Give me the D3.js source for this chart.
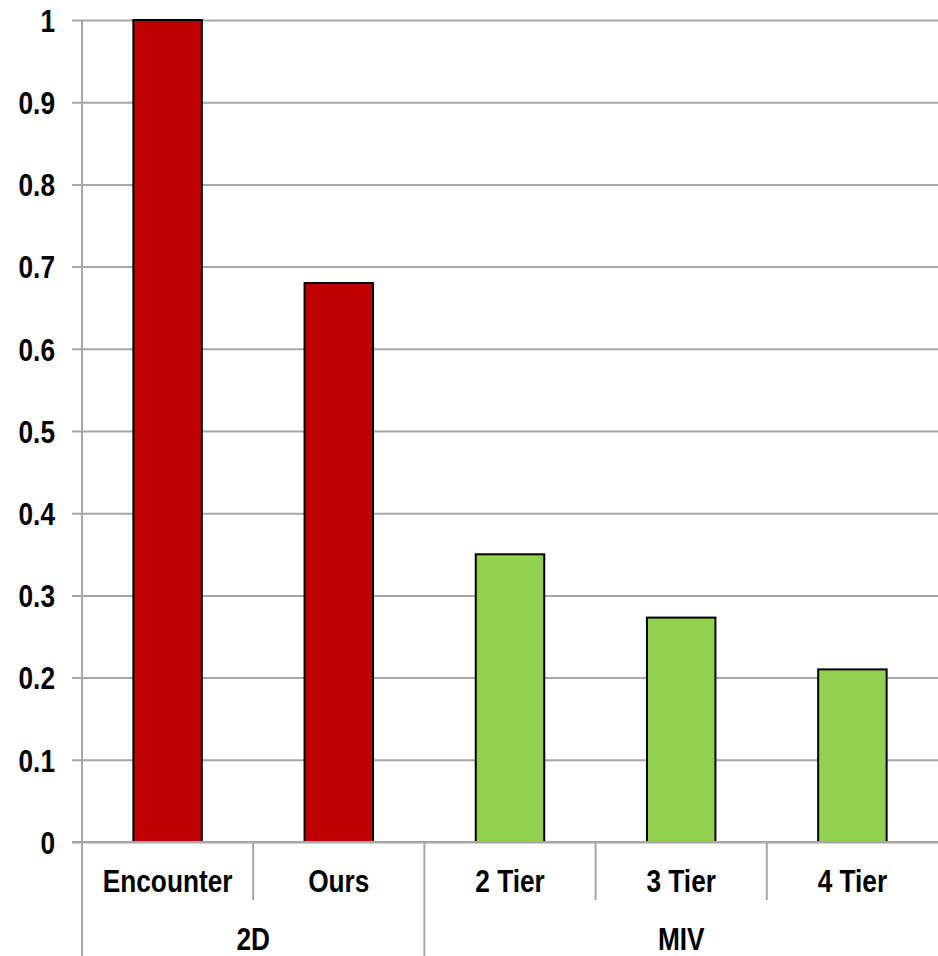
<!DOCTYPE html>
<html>
<head>
<meta charset="utf-8">
<script src="https://cdn.jsdelivr.net/npm/d3@7"></script>
<style>
  body { margin: 0; background: #fff; }
  svg text { font-family: "Liberation Sans Narrow", "Arial Narrow", "Liberation Sans", Arial, sans-serif; font-weight: bold; fill: #000; font-size: 32px; }
</style>
</head>
<body>
<svg id="chart" width="938" height="956"></svg>
<script>
// chart data
const categories = ['Encounter', 'Ours', '2 Tier', '3 Tier', '4 Tier'];
const groups = ['2D', '2D', 'MIV', 'MIV', 'MIV'];
const values = [1, 0.68, 0.35, 0.273, 0.21];
const groupNames = ['2D', 'MIV'];
const yTicks = [0, 0.1, 0.2, 0.3, 0.4, 0.5, 0.6, 0.7, 0.8, 0.9, 1];

const width = 938, height = 956;
const margin = { left: 82, right: 0, top: 20, bottom: 114 };
const drawWidth = width - margin.left - margin.right;
const drawHeight = height - margin.top - margin.bottom;
const colors = { '2D': '#c00000', 'MIV': '#92d050' };
const squeeze = 0.82; // narrow font look

const svg = d3.select('#chart');

const xScale = d3.scaleBand().domain(categories).range([0, drawWidth]);
const yScale = d3.scaleLinear().domain([0, 1]).range([drawHeight, 0]);

const g = svg.append('g').attr('transform', `translate(${margin.left},${margin.top})`);

// gridlines + y axis
const yAxis = d3.axisLeft(yScale).tickValues(yTicks).tickFormat(d => d3.format('')(d))
  .tickSize(-drawWidth - 10).tickPadding(0);
const yAxisG = g.append('g').attr('transform', 'translate(-10,0)').call(yAxis);
yAxisG.select('.domain').remove();
yAxisG.selectAll('.tick line').attr('stroke', '#a6a6a6').attr('stroke-width', 2)
  .attr('x1', 0).attr('x2', drawWidth + 10);
yAxisG.selectAll('.tick text')
  .attr('transform', `scale(${squeeze},1)`)
  .attr('x', -17 / squeeze).attr('dy', '0.35em')
  .style('font-size', null).attr('font-size', null);

// bars
const barW = xScale.bandwidth() * 0.4;
g.selectAll('rect.bar').data(values).enter().append('rect')
  .attr('class', 'bar')
  .attr('x', (d, i) => xScale(categories[i]) + (xScale.bandwidth() - barW) / 2)
  .attr('y', d => yScale(d))
  .attr('width', barW)
  .attr('height', d => yScale(0) - yScale(d))
  .attr('fill', (d, i) => colors[groups[i]])
  .attr('stroke', '#000').attr('stroke-width', 2);

// baseline again on top of bars
g.append('line').attr('x1', -10).attr('x2', drawWidth)
  .attr('y1', yScale(0)).attr('y2', yScale(0))
  .attr('stroke', '#a6a6a6').attr('stroke-width', 2);

// vertical axis line down to the bottom
g.append('line').attr('x1', 0).attr('x2', 0)
  .attr('y1', 0).attr('y2', height - margin.top)
  .attr('stroke', '#a6a6a6').attr('stroke-width', 2);

// category separators
const rowH = 58;
categories.slice(1).forEach((c, i) => {
  const x = xScale(c);
  const groupBreak = groups[i] !== groups[i + 1];
  g.append('line').attr('x1', x).attr('x2', x)
    .attr('y1', drawHeight).attr('y2', groupBreak ? height - margin.top : drawHeight + rowH)
    .attr('stroke', '#a6a6a6').attr('stroke-width', 2);
});

// category labels
g.selectAll('text.cat').data(categories).enter().append('text')
  .attr('class', 'cat')
  .attr('transform', d => `translate(${xScale(d) + xScale.bandwidth() / 2},${drawHeight + 50}) scale(${squeeze},1)`)
  .attr('text-anchor', 'middle')
  .text(d => d);

// group labels
groupNames.forEach(name => {
  const members = categories.filter((c, i) => groups[i] === name);
  const x0 = xScale(members[0]);
  const x1 = xScale(members[members.length - 1]) + xScale.bandwidth();
  g.append('text')
    .attr('transform', `translate(${(x0 + x1) / 2},${drawHeight + 108}) scale(${squeeze},1)`)
    .attr('text-anchor', 'middle')
    .text(name);
});
</script>
</body>
</html>
